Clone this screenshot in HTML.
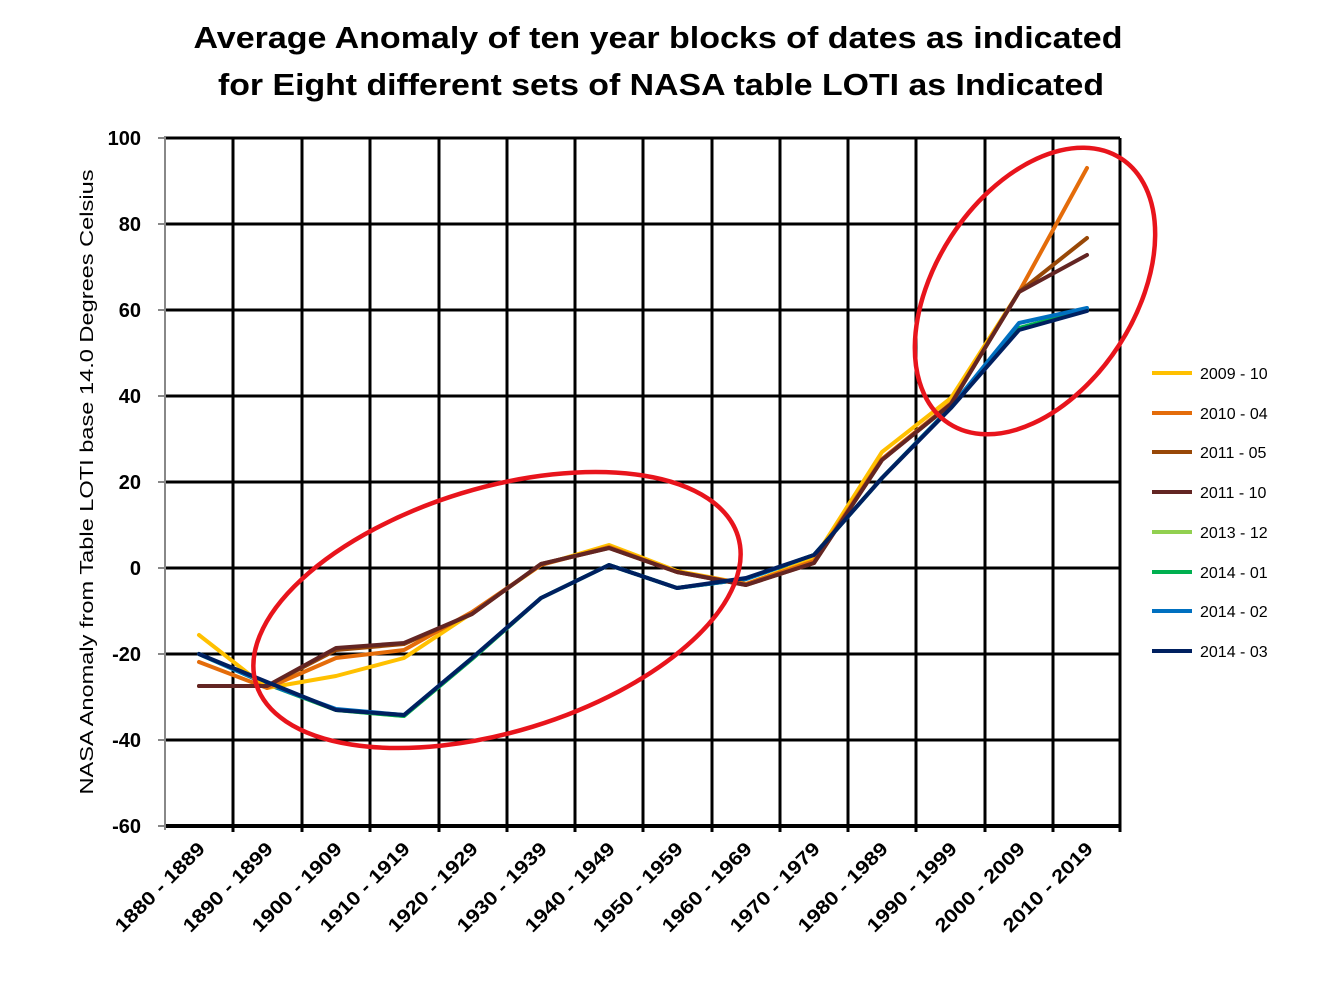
<!DOCTYPE html>
<html><head><meta charset="utf-8"><style>
html,body{margin:0;padding:0;background:#fff;}
svg{display:block;font-family:"Liberation Sans",sans-serif;}
</style></head><body>
<svg width="1324" height="988" viewBox="0 0 1324 988" xmlns="http://www.w3.org/2000/svg">
<rect width="1324" height="988" fill="#fff"/>
<text x="658" y="48" font-size="31" font-weight="bold" text-anchor="middle" textLength="929" lengthAdjust="spacingAndGlyphs">Average Anomaly of ten year blocks of dates as indicated</text>
<text x="661" y="95" font-size="31" font-weight="bold" text-anchor="middle" textLength="886" lengthAdjust="spacingAndGlyphs">for Eight different sets of NASA table LOTI as Indicated</text>
<g stroke="#000" stroke-width="3">
<line x1="165" y1="138" x2="1120" y2="138"/>
<line x1="165" y1="224" x2="1120" y2="224"/>
<line x1="165" y1="310" x2="1120" y2="310"/>
<line x1="165" y1="396" x2="1120" y2="396"/>
<line x1="165" y1="482" x2="1120" y2="482"/>
<line x1="165" y1="568" x2="1120" y2="568"/>
<line x1="165" y1="654" x2="1120" y2="654"/>
<line x1="165" y1="740" x2="1120" y2="740"/>
<line x1="233" y1="138" x2="233" y2="832"/>
<line x1="302" y1="138" x2="302" y2="832"/>
<line x1="370" y1="138" x2="370" y2="832"/>
<line x1="439" y1="138" x2="439" y2="832"/>
<line x1="507" y1="138" x2="507" y2="832"/>
<line x1="575" y1="138" x2="575" y2="832"/>
<line x1="643" y1="138" x2="643" y2="832"/>
<line x1="712" y1="138" x2="712" y2="832"/>
<line x1="780" y1="138" x2="780" y2="832"/>
<line x1="848" y1="138" x2="848" y2="832"/>
<line x1="916" y1="138" x2="916" y2="832"/>
<line x1="985" y1="138" x2="985" y2="832"/>
<line x1="1053" y1="138" x2="1053" y2="832"/>
<line x1="1120" y1="138" x2="1120" y2="832"/>
<line x1="165" y1="826" x2="1120" y2="826" stroke-width="4"/>
</g>
<g stroke="#888" stroke-width="2">
<line x1="165" y1="136" x2="165" y2="830"/>
<line x1="158" y1="138" x2="165" y2="138"/><line x1="158" y1="224" x2="165" y2="224"/>
<line x1="158" y1="310" x2="165" y2="310"/><line x1="158" y1="396" x2="165" y2="396"/>
<line x1="158" y1="482" x2="165" y2="482"/><line x1="158" y1="568" x2="165" y2="568"/>
<line x1="158" y1="654" x2="165" y2="654"/><line x1="158" y1="740" x2="165" y2="740"/>
<line x1="158" y1="826" x2="165" y2="826"/>
</g>
<g font-size="20" font-weight="bold" text-anchor="end">
<text x="141" y="145">100</text><text x="141" y="231">80</text><text x="141" y="317">60</text>
<text x="141" y="403">40</text><text x="141" y="489">20</text><text x="141" y="575">0</text>
<text x="141" y="661">-20</text><text x="141" y="747">-40</text><text x="141" y="833">-60</text>
</g>
<text transform="translate(93,482) rotate(-90)" font-size="18" text-anchor="middle" textLength="625" lengthAdjust="spacingAndGlyphs">NASA Anomaly from Table LOTI base 14.0 Degrees Celsius</text>
<g font-size="19" font-weight="bold" text-anchor="end">
<text transform="translate(206,850) rotate(-45)" textLength="118" lengthAdjust="spacingAndGlyphs">1880 - 1889</text>
<text transform="translate(274,850) rotate(-45)" textLength="118" lengthAdjust="spacingAndGlyphs">1890 - 1899</text>
<text transform="translate(343,850) rotate(-45)" textLength="118" lengthAdjust="spacingAndGlyphs">1900 - 1909</text>
<text transform="translate(411,850) rotate(-45)" textLength="118" lengthAdjust="spacingAndGlyphs">1910 - 1919</text>
<text transform="translate(479,850) rotate(-45)" textLength="118" lengthAdjust="spacingAndGlyphs">1920 - 1929</text>
<text transform="translate(548,850) rotate(-45)" textLength="118" lengthAdjust="spacingAndGlyphs">1930 - 1939</text>
<text transform="translate(616,850) rotate(-45)" textLength="118" lengthAdjust="spacingAndGlyphs">1940 - 1949</text>
<text transform="translate(684,850) rotate(-45)" textLength="118" lengthAdjust="spacingAndGlyphs">1950 - 1959</text>
<text transform="translate(753,850) rotate(-45)" textLength="118" lengthAdjust="spacingAndGlyphs">1960 - 1969</text>
<text transform="translate(821,850) rotate(-45)" textLength="118" lengthAdjust="spacingAndGlyphs">1970 - 1979</text>
<text transform="translate(889,850) rotate(-45)" textLength="118" lengthAdjust="spacingAndGlyphs">1980 - 1989</text>
<text transform="translate(958,850) rotate(-45)" textLength="118" lengthAdjust="spacingAndGlyphs">1990 - 1999</text>
<text transform="translate(1026,850) rotate(-45)" textLength="118" lengthAdjust="spacingAndGlyphs">2000 - 2009</text>
<text transform="translate(1094,850) rotate(-45)" textLength="118" lengthAdjust="spacingAndGlyphs">2010 - 2019</text>
</g>
<g fill="none" stroke-width="4" stroke-linejoin="round" stroke-linecap="round">
<polyline stroke="#92D050" points="199,654 267,684 336,710 404,716 472,659 541,598 609,565 677,588 746,579 814,555 882,478 951,407 1019,328 1087,310"/>
<polyline stroke="#00B050" points="199,654 267,684 336,710 404,716 472,659 541,598 609,565 677,588 746,579 814,555 882,478 951,407 1019,328 1087,310"/>
<polyline stroke="#0070C0" points="199,654 267,684 336,709 404,715 472,658 541,598 609,565 677,588 746,579 814,555 882,478 951,407 1019,323 1087,308"/>
<polyline stroke="#FFC000" points="199,635 267,688 336,676 404,658 472,613 541,565 609,545 677,571 746,584 814,559 882,452 951,398 1019,292"/>
<polyline stroke="#E46C0A" points="199,662 267,688 336,658 404,650 472,612 541,565 609,547 677,572 746,584 814,561 882,459 951,403 1019,292 1087,168"/>
<polyline stroke="#984807" points="199,686 267,686 336,650 404,644 472,614 541,564 609,548 677,572 746,585 814,563 882,460 951,404 1019,292 1087,238"/>
<polyline stroke="#632523" points="199,686 267,686 336,648 404,643 472,614 541,564 609,548 677,572 746,585 814,563 882,460 951,404 1019,292 1087,255"/>
<polyline stroke="#002060" points="199,654 267,682 336,710 404,715 472,658 541,598 609,565 677,588 746,578 814,555 882,478 951,408 1019,330 1087,311"/>
</g>
<g fill="none" stroke="#E8141C" stroke-width="4.5">
<ellipse cx="497" cy="610" rx="252" ry="122" transform="rotate(-17 497 610)"/>
<ellipse cx="1035" cy="291" rx="100" ry="158" transform="rotate(33 1035 291)"/>
</g>
<g stroke-width="4">
<line x1="1152" y1="373" x2="1192" y2="373" stroke="#FFC000"/>
<line x1="1152" y1="413" x2="1192" y2="413" stroke="#E46C0A"/>
<line x1="1152" y1="452" x2="1192" y2="452" stroke="#984807"/>
<line x1="1152" y1="492" x2="1192" y2="492" stroke="#632523"/>
<line x1="1152" y1="532" x2="1192" y2="532" stroke="#92D050"/>
<line x1="1152" y1="572" x2="1192" y2="572" stroke="#00B050"/>
<line x1="1152" y1="611" x2="1192" y2="611" stroke="#0070C0"/>
<line x1="1152" y1="651" x2="1192" y2="651" stroke="#002060"/>
</g>
<g font-size="16">
<text x="1200" y="379">2009 - 10</text><text x="1200" y="419">2010 - 04</text>
<text x="1200" y="458">2011 - 05</text><text x="1200" y="498">2011 - 10</text>
<text x="1200" y="538">2013 - 12</text><text x="1200" y="578">2014 - 01</text>
<text x="1200" y="617">2014 - 02</text><text x="1200" y="657">2014 - 03</text>
</g>
</svg>
</body></html>
